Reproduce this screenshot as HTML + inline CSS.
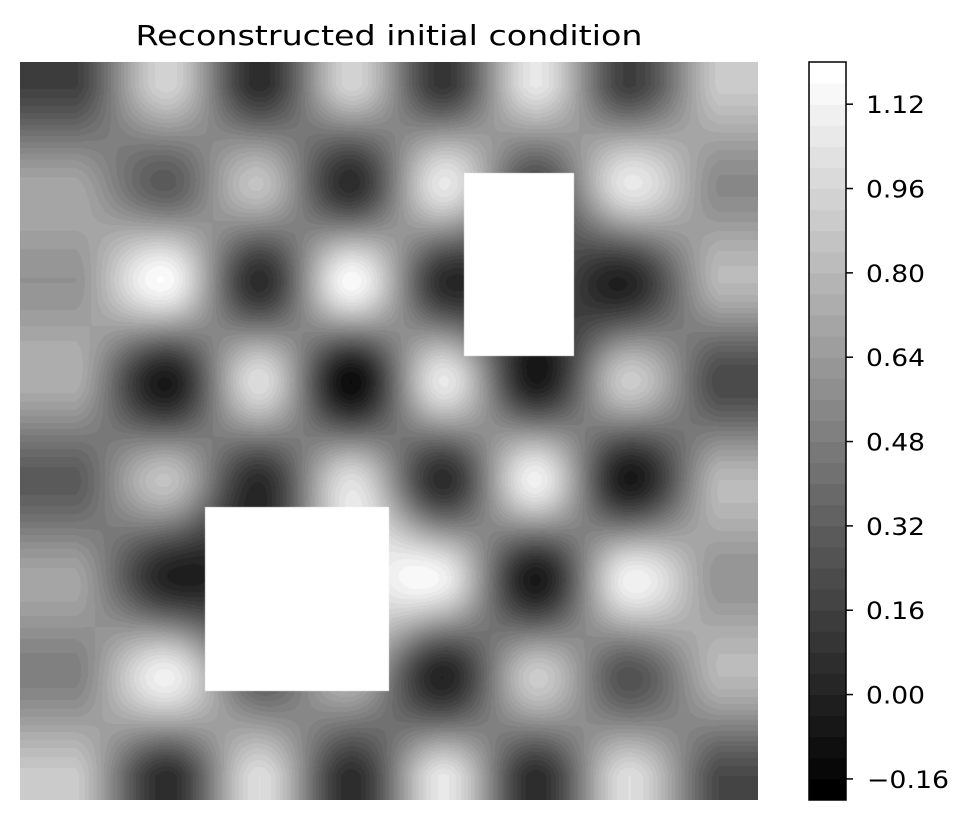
<!DOCTYPE html>
<html><head><meta charset="utf-8"><style>
html,body{margin:0;padding:0;background:#fff;}
body{width:970px;height:821px;position:relative;overflow:hidden;font-family:"DejaVu Sans","Liberation Sans",sans-serif;}
canvas{position:absolute;left:20px;top:62px;}
svg{position:absolute;left:0;top:0;}
</style></head><body>
<canvas id="cv" width="738" height="738"></canvas>
<svg id="sv" width="970" height="821">
<text x="389" y="45" text-anchor="middle" font-size="28" textLength="507" lengthAdjust="spacingAndGlyphs" font-family="DejaVu Sans, Liberation Sans, sans-serif">Reconstructed initial condition</text>
</svg>
<script>
// grid values (rows top->bottom, cols left->right)
const row0=[0.15,0.95,0.05,0.95,0.10,1.05,0.15,0.90];
const row1=[0.70,0.30,0.85,0.05,1.05,0.20,1.05,0.55];
const row2=[0.60,1.15,0.05,1.15,0.05,0.30,0.00,0.80];
const row3=[0.75,-0.05,1.00,-0.12,1.05,-0.05,0.90,0.20];
const row4=[0.30,0.85,0.05,1.00,0.05,1.10,-0.05,0.80];
const row5=[0.70,0.00,0.20,0.90,1.10,-0.05,1.10,0.60];
const row6=[0.50,1.10,0.30,0.80,0.00,0.90,0.25,0.80];
const row7=[0.90,0.05,1.00,0.05,1.05,0.05,1.00,0.20];
const grid=[row0,row1,row2,row3,row4,row5,row6,row7];
const vmin=-0.2, vmax=1.2, step=0.04;
const ticks=[-0.16,0.00,0.16,0.32,0.48,0.64,0.80,0.96,1.12];
const tickLabels=["\u22120.16","0.00","0.16","0.32","0.48","0.64","0.80","0.96","1.12"];
// masked rectangles (fraction of domain)
const masks=[[0.6016,0.1504,0.7507,0.3984],[0.2507,0.6030,0.5,0.8523]];

const W=738,H=738,PX=20,PY=62;
const nL=Math.round((vmax-vmin)/step);
function colorOf(v){let k=Math.floor((v-vmin)/step);k=Math.max(0,Math.min(nL-1,k));return Math.round(k/(nL-1)*255);}
function cr(p0,p1,p2,p3,t){return 0.5*((2*p1)+(-p0+p2)*t+(2*p0-5*p1+4*p2-p3)*t*t+(-p0+3*p1-3*p2+p3)*t*t*t);}
function g(r,c){r=Math.max(0,Math.min(7,r));c=Math.max(0,Math.min(7,c));return grid[r][c];}
function sample(gx,gy){
 gx=Math.max(0,Math.min(7,gx));gy=Math.max(0,Math.min(7,gy));
 const ix=Math.min(6,Math.floor(gx)),iy=Math.min(6,Math.floor(gy));const tx=gx-ix,ty=gy-iy;
 const rows=[];for(let j=-1;j<3;j++){rows.push(cr(g(iy+j,ix-1),g(iy+j,ix),g(iy+j,ix+1),g(iy+j,ix+2),tx));}
 return cr(rows[0],rows[1],rows[2],rows[3],ty);
}
const cv=document.getElementById('cv');const ctx=cv.getContext('2d');
const img=ctx.createImageData(W,H);
for(let y=0;y<H;y++){const gy=(y+PY-85)/98.6;for(let x=0;x<W;x++){const gx=(x+PX-75)/92;
 const c=colorOf(sample(gx,gy));const i=(y*W+x)*4;img.data[i]=img.data[i+1]=img.data[i+2]=c;img.data[i+3]=255;}}
ctx.putImageData(img,0,0);
ctx.fillStyle='#fff';
masks.forEach(m=>{ctx.fillRect(m[0]*W,m[1]*H,(m[2]-m[0])*W,(m[3]-m[1])*H);});

const NS='http://www.w3.org/2000/svg';const sv=document.getElementById('sv');
const cbX=809,cbW=37,cbT=62,cbB=800;
function yScale(v){return cbB-(v-vmin)/(vmax-vmin)*(cbB-cbT);}
for(let k=0;k<nL;k++){const lo=vmin+k*step,hi=lo+step;const r=document.createElementNS(NS,'rect');
 r.setAttribute('x',cbX);r.setAttribute('y',yScale(hi));r.setAttribute('width',cbW);r.setAttribute('height',yScale(lo)-yScale(hi)+0.5);
 const c=Math.round(k/(nL-1)*255);r.setAttribute('fill','rgb('+c+','+c+','+c+')');
 
 
 sv.appendChild(r);}
const fr=document.createElementNS(NS,'rect');fr.setAttribute('x',cbX);fr.setAttribute('y',cbT);fr.setAttribute('width',cbW);fr.setAttribute('height',cbB-cbT);fr.setAttribute('fill','none');fr.setAttribute('stroke','#000');fr.setAttribute('stroke-width','1.5');


sv.appendChild(fr);
ticks.forEach((t,i)=>{const y=yScale(t);
 const l=document.createElementNS(NS,'line');l.setAttribute('x1',cbX+cbW);l.setAttribute('x2',cbX+cbW+7);l.setAttribute('y1',y);l.setAttribute('y2',y);l.setAttribute('stroke','#000');l.setAttribute('stroke-width','1.5');
 
 
 sv.appendChild(l);
 const tx=document.createElementNS(NS,'text');tx.setAttribute('x',t<0?867:866);tx.setAttribute('y',y+9);tx.setAttribute('font-size','24');tx.setAttribute('font-family','DejaVu Sans, Liberation Sans, sans-serif');
 tx.setAttribute('textLength',t<0?82:59);tx.setAttribute('lengthAdjust','spacingAndGlyphs');
 tx.textContent=tickLabels[i];
 
 
 sv.appendChild(tx);});
</script>
</body></html>
